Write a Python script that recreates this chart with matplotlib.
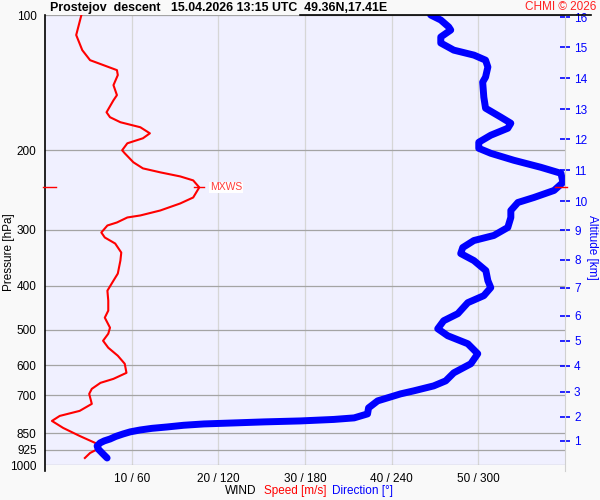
import numpy as np
import matplotlib
matplotlib.use("Agg")
import matplotlib.pyplot as plt
from matplotlib.ticker import NullLocator, FixedFormatter
from matplotlib.lines import Line2D

plt.rcParams['font.family'] = ['Liberation Sans', 'DejaVu Sans']

# wind speed profile (m/s) vs pressure (hPa)
spd_p = [100, 110.8, 119.7, 126.0, 132.6, 136.0, 143.2, 150.7, 154.7, 164.5, 168.7, 173.1,
         177.6, 183.2, 187.9, 192.8, 199.8, 202.9, 212.5, 219.2, 223.7, 228.4, 233.1, 241.6,
         254.4, 262.3, 271.9, 278.9, 281.8, 289.1, 293.6, 304.3, 312.2, 322.0, 337.2, 351.3,
         375.5, 389.3, 409.8, 431.3, 453.9, 470.5, 495.3, 510.8, 529.5, 548.8, 571.7, 595.7,
         624.0, 643.5, 656.8, 677.3, 694.9, 731.4, 758.1, 777.9, 798.1, 827.3, 861.9, 893.4,
         921.3, 940.4, 964.8]
spd = [4.2, 3.6, 4.3, 5.2, 8.3, 8.4, 7.9, 8.3, 7.9, 7.1, 7.5, 8.7,
       11.0, 12.1, 11.3, 9.5, 8.9, 9.2, 10.2, 11.3, 13.3, 15.6, 17.1, 17.8,
       17.1, 15.6, 13.3, 11.0, 9.5, 8.3, 7.2, 6.5, 6.9, 8.1, 8.8, 8.7,
       8.4, 7.9, 7.2, 7.3, 7.3, 6.9, 7.5, 7.3, 6.7, 7.3, 8.4, 9.2,
       9.4, 7.9, 6.4, 5.4, 5.1, 5.4, 4.0, 1.7, 0.8, 2.1, 4.0, 5.8,
       6.1, 5.2, 4.6]

# wind direction profile (deg) vs pressure (hPa)
dir_p = [100, 102.6, 106.3, 108.0, 111.9, 115.4, 119.7, 122.8, 126.0, 130.5, 137.4, 141.0,
         152.3, 161.1, 168.7, 174.0, 178.5, 185.0, 191.8, 197.8, 202.9, 210.3, 218.0, 224.8,
         235.5, 245.4, 254.4, 261.0, 271.9, 281.8, 296.6, 309.0, 317.1, 328.7, 338.9, 351.3,
         369.8, 389.3, 403.5, 420.4, 435.8, 461.0, 478.0, 498.0, 516.1, 537.7, 565.9, 595.7,
         624.0, 650.2, 667.1, 684.4, 694.9, 720.3, 746.6, 769.9, 785.8, 792.0, 798.1, 802.0,
         806.4, 810.5, 816.0, 823.1, 829.0, 835.9, 844.0, 853.1, 864.0, 875.3, 884.0, 893.4,
         907.3, 921.3, 933.0, 945.2, 964.8]
wdir = [267, 274, 279.5, 280.9, 274, 274, 283, 297, 305, 306.6, 305, 303,
        303.8, 305, 315.6, 322.5, 320.4, 308.6, 300.3, 300.3, 308.6, 324.6, 343.3, 357.2,
        358.6, 352.4, 338.5, 327.4, 322.5, 322.5, 320.4, 310.7, 296.9, 289.2, 287.8, 296.9,
        305.2, 306.6, 308.6, 303.8, 292.7, 285.8, 276, 271.9, 278.8, 292.7, 299.6, 294.8,
        283, 277.4, 269.1, 255.2, 246.2, 230.3, 224.0, 223.3, 214.0, 200.0, 176.9, 152.0,
        130.4, 110.0, 96.0, 84.6, 74.0, 65.9, 59.0, 54.1, 49.0, 45.1, 41.0, 38.1,
        36.1, 36.8, 38.5, 40.2, 43.0]

p_ticks = [100, 200, 300, 400, 500, 600, 700, 850, 925, 1000]
x_ticks = [10, 20, 30, 40, 50]
x_labels = ['10 / 60', '20 / 120', '30 / 180', '40 / 240', '50 / 300']
alt_km = list(range(1, 17))
alt_p = [884.4, 781.9, 687.7, 602, 529.5, 465.9, 403.5, 349.5, 301.2, 259.6,
         221.5, 188.9, 162.0, 138.3, 118.0, 101.2]

mxws_p = 241.6
mxws_spd = 17.8

fig = plt.figure(figsize=(6, 5), dpi=100, facecolor='#f9f9f9')
ax = fig.add_axes([45/600, 35/500, 520/600, 450/500])
ax.set_facecolor('#f0f0ff')
ax.set_yscale('log')
ax.set_xlim(0, 60)

# direction on its own x scale, sharing pressure axis
axd = ax.twiny()
axd.set_xlim(0, 360)
axd.set_xticks([])
for s in axd.spines.values():
    s.set_visible(False)

# altitude axis on the right
axa = ax.twinx()
axa.set_yscale('log')

ax.set_ylim(1000, 100)
axa.set_ylim(1000, 100)

ax.set_yticks(p_ticks)
ax.yaxis.set_minor_locator(NullLocator())
ax.yaxis.set_major_formatter(FixedFormatter([str(v) for v in p_ticks]))
ax.set_xticks(x_ticks)
ax.set_xticklabels(x_labels)
ax.tick_params(axis='both', length=0, labelsize=8.5, pad=6)
ax.grid(axis='y', color='#a4a4a4', lw=0.9)
ax.grid(axis='x', color='#d6d6d6', lw=0.9)
ax.set_axisbelow(True)
for s in ['top', 'bottom', 'right']:
    ax.spines[s].set_visible(False)
ax.spines['left'].set_color('black')
ax.spines['left'].set_linewidth(1.2)
ax.spines['left'].set_bounds(1031, 100)

axa.set_yticks(alt_p)
axa.yaxis.set_minor_locator(NullLocator())
axa.yaxis.set_major_formatter(FixedFormatter([str(v) for v in alt_km]))
axa.tick_params(axis='y', direction='inout', length=7, width=1.2, color='blue',
                labelcolor='blue', labelsize=8.5, pad=3)
for s in ['top', 'bottom', 'left']:
    axa.spines[s].set_visible(False)
axa.spines['right'].set_color('#d0d0d0')
axa.spines['right'].set_bounds(1031, 100)

ax.plot(spd, spd_p, color='red', lw=1.5, solid_joinstyle='round', zorder=3)

# max wind marks
ax.plot([mxws_spd - 0.6, mxws_spd + 0.6], [mxws_p, mxws_p], color='red', lw=1.0, zorder=4)
ax.plot([-0.2, 1.3], [mxws_p, mxws_p], color='red', lw=1.0, clip_on=False, zorder=4)
ax.text(mxws_spd + 1.2, mxws_p, 'MXWS', color='#ff3b3b', fontsize=7.5, va='center',
        bbox=dict(facecolor='white', edgecolor='none', pad=0.6), zorder=5)

axd.plot(wdir, dir_p, color='#0000ff', lw=5, solid_capstyle='round',
         solid_joinstyle='round')
axa.plot([58.8 * 6, 60.2 * 6], [mxws_p, mxws_p], color='red', lw=1.0, clip_on=False,
         transform=axd.transData, zorder=6)

fig.text(50/600, 1 - 8/500, 'Prostejov  descent   15.04.2026 13:15 UTC  49.36N,17.41E',
         fontsize=8.9, fontweight='bold', va='center', ha='left')
fig.text(596/600, 1 - 7/500, 'CHMI \u00a9 2026', fontsize=8.5, color='#ff2020',
         va='center', ha='right')
fig.add_artist(Line2D([300/600, 591/600], [1 - 15/500, 1 - 15/500], color='black', lw=1.2))

fig.text(9/600, 0.496, 'Pressure [hPa]', rotation=90, fontsize=8.5, va='center', ha='center')
fig.text(592/600, 0.506, 'Altitude [km]', rotation=270, fontsize=8.5, color='blue',
         va='center', ha='center')

fig.text(225/600, 1 - 491/500, 'WIND', fontsize=8.5, va='center', ha='left')
fig.text(264/600, 1 - 491/500, 'Speed [m/s]', fontsize=8.5, color='red', va='center', ha='left')
fig.text(332/600, 1 - 491/500, 'Direction [\u00b0]', fontsize=8.5, color='blue',
         va='center', ha='left')

fig.savefig('out.png', dpi=100, facecolor=fig.get_facecolor())
